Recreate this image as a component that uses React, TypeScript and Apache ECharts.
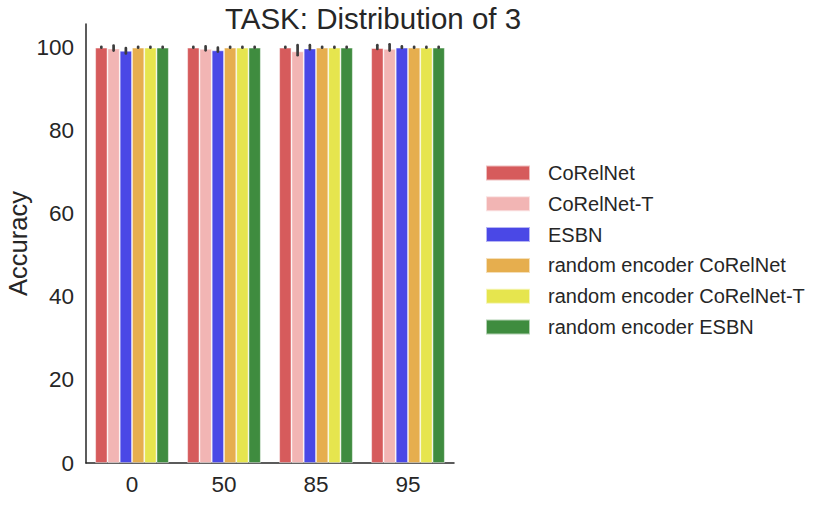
import React, { useEffect, useRef } from "react";
import * as echarts from "echarts";

const categories = ["0", "50", "85", "95"];
const seriesNames = [
  "CoRelNet",
  "CoRelNet-T",
  "ESBN",
  "random encoder CoRelNet",
  "random encoder CoRelNet-T",
  "random encoder ESBN",
];
const colors = ["#d65b5c", "#f2b5b4", "#4a48e6", "#e6ae4e", "#e6e54e", "#3f8c3f"];

const valCoRelNet = [100, 100, 100, 99.9];
const valCoRelNetT = [99.8, 99.7, 99.1, 99.7];
const valESBN = [99.25, 99.35, 99.8, 100];
const valRandCoRelNet = [100, 100, 100, 100];
const valRandCoRelNetT = [100, 100, 100, 100];
const valRandESBN = [100, 100, 100, 100];

const lowCoRelNet = [100, 100, 100, 99.7];
const highCoRelNet = [100.2, 100.2, 100.2, 100.6];
const lowCoRelNetT = [99.3, 99.35, 98.2, 99.3];
const highCoRelNetT = [100.5, 100.3, 100.6, 100.8];
const lowESBN = [98.6, 99.05, 99.6, 99.95];
const highESBN = [99.9, 100.0, 100.6, 100.3];
const lowRand = [100, 100, 100, 100];
const highRand = [100.2, 100.2, 100.2, 100.2];

const values = [valCoRelNet, valCoRelNetT, valESBN, valRandCoRelNet, valRandCoRelNetT, valRandESBN];
const lows = [lowCoRelNet, lowCoRelNetT, lowESBN, lowRand, lowRand, lowRand];
const highs = [highCoRelNet, highCoRelNetT, highESBN, highRand, highRand, highRand];

const yTicks = [0, 20, 40, 60, 80, 100];

const FONT = "'Liberation Sans', Arial, Helvetica, sans-serif";
const TEXT = "#262626";

export default function App() {
  const ref = useRef<HTMLDivElement>(null);
  useEffect(() => {
    if (!ref.current) return;
    const chart = echarts.init(ref.current, null, { renderer: "svg" });
    const errData: number[][] = [];
    seriesNames.forEach((_, s) => {
      categories.forEach((_, c) => {
        errData.push([c, lows[s][c], highs[s][c], s]);
      });
    });
    const n = seriesNames.length;
    chart.setOption({
      animation: false,
      backgroundColor: "#ffffff",
      textStyle: { fontFamily: FONT },
      title: {
        text: "TASK: Distribution of 3",
        left: 373,
        top: 3,
        textAlign: "center",
        padding: 0,
        textStyle: { fontFamily: FONT, fontSize: 29.5, fontWeight: "normal", color: TEXT },
      },
      legend: {
        orient: "vertical",
        left: 485,
        top: 163,
        padding: 0,
        itemWidth: 44,
        itemHeight: 15,
        itemGap: 10.8,
        icon: "rect",
        data: seriesNames,
        textStyle: {
          fontFamily: FONT,
          fontSize: 20,
          color: TEXT,
          lineHeight: 16,
          padding: [0, 0, 0, 13],
        },
      },
      grid: { left: 86, right: 376, top: 24, bottom: 42, containLabel: false },
      xAxis: {
        type: "category",
        data: categories,
        axisTick: { show: false },
        axisLine: { lineStyle: { color: TEXT, width: 1.5 } },
        axisLabel: { fontFamily: FONT, fontSize: 22.5, color: TEXT, margin: 10 },
      },
      yAxis: {
        type: "value",
        min: 0,
        max: 105.7,
        interval: 20,
        name: "Accuracy",
        nameLocation: "middle",
        nameGap: 55,
        nameTextStyle: { fontFamily: FONT, fontSize: 25.5, color: TEXT },
        axisLine: { show: true, lineStyle: { color: TEXT, width: 1.5 } },
        axisTick: { show: false },
        splitLine: { show: false },
        axisLabel: {
          fontFamily: FONT,
          fontSize: 22.5,
          color: TEXT,
          margin: 12,
          showMaxLabel: false,
          formatter: (v: number) => (yTicks.includes(v) ? String(v) : ""),
        },
      },
      series: [
        ...seriesNames.map((name, s) => ({
          name,
          type: "bar",
          data: values[s],
          barGap: "0%",
          barCategoryGap: "20%",
          itemStyle: { color: colors[s], borderColor: "rgba(255,255,255,0.6)", borderWidth: 0.8 },
        })),
        {
          type: "custom",
          name: "err",
          z: 10,
          data: errData,
          encode: { x: 0, y: [1, 2] },
          renderItem: (params: any, api: any) => {
            const c = api.value(0);
            const lo = api.value(1);
            const hi = api.value(2);
            const s = api.value(3);
            const p1 = api.coord([c, hi]);
            const p2 = api.coord([c, lo]);
            const band = api.size([1, 0])[0];
            const groupW = band * 0.8;
            const bw = groupW / n;
            const x = p1[0] - groupW / 2 + bw * (s + 0.5);
            return {
              type: "line",
              shape: { x1: x, y1: p1[1], x2: x, y2: p2[1] },
              style: { stroke: "#3c3c3c", lineWidth: 2.7, lineCap: "round" },
            };
          },
        },
      ],
    });
    return () => chart.dispose();
  }, []);
  return (
    <div
      ref={ref}
      style={{ position: "fixed", left: 0, top: 0, width: 830, height: 505 }}
    />
  );
}
